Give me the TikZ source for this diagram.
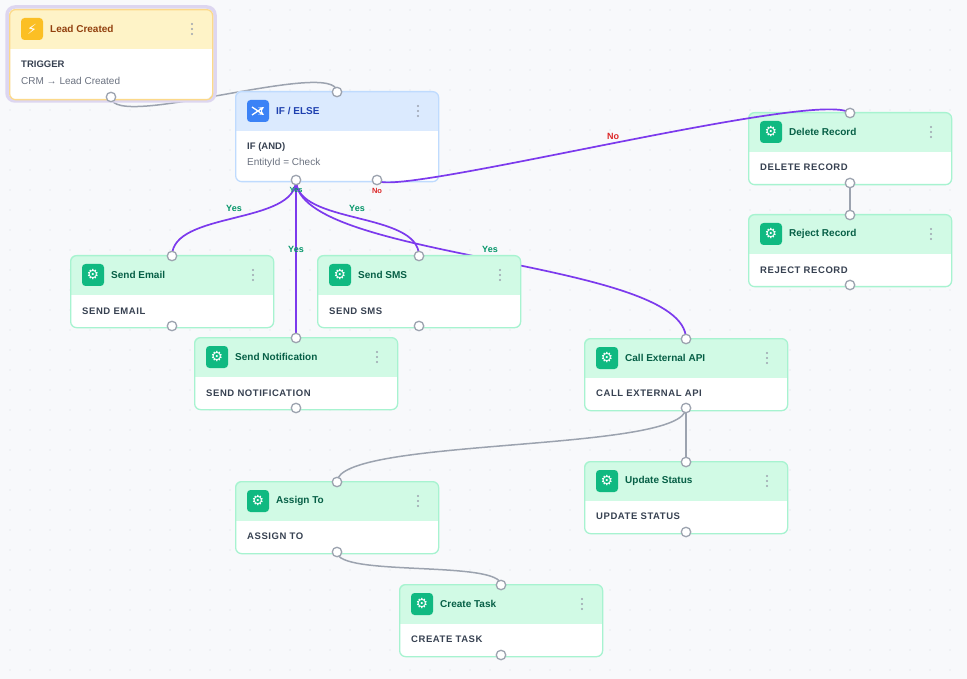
\documentclass[tikz,border=0pt]{standalone}
\usepackage{fontspec}
\setmainfont{Liberation Sans}
\newfontfamily\spaced[LetterSpace=6]{Liberation Sans}
\newfontfamily\sym{DejaVu Sans}
\definecolor{bgc}{HTML}{F8F9FB}
\definecolor{dotc}{HTML}{D9DCE2}
\definecolor{hdr-green}{HTML}{D1FAE5}
\definecolor{brd-green}{HTML}{A7F3D0}
\definecolor{icon-green}{HTML}{10B981}
\definecolor{ttl-green}{HTML}{065F46}
\definecolor{hdr-yellow}{HTML}{FEF3C7}
\definecolor{brd-yellow}{HTML}{FCD98A}
\definecolor{icon-yellow}{HTML}{FBBF24}
\definecolor{ttl-yellow}{HTML}{92400E}
\definecolor{hdr-blue}{HTML}{DBEAFE}
\definecolor{brd-blue}{HTML}{BFDBFE}
\definecolor{icon-blue}{HTML}{3B82F6}
\definecolor{ttl-blue}{HTML}{1E40AF}
\definecolor{edgep}{HTML}{7C3AED}
\definecolor{edgeg}{HTML}{9CA3AF}
\definecolor{bodyc}{HTML}{374151}
\definecolor{subc}{HTML}{6B7280}
\definecolor{yesc}{HTML}{059669}
\definecolor{noc}{HTML}{DC2626}
\definecolor{glow}{HTML}{DDD6F0}
\pgfdeclarelayer{bg}\pgfdeclarelayer{fg}\pgfsetlayers{bg,main,fg}
\tikzset{
  handle/.style={circle,fill=white,draw=edgeg,line width=1.3pt,minimum size=9.5pt,inner sep=0},
  pe/.style={draw=edgep,line width=1.7pt},
  ge/.style={draw=edgeg,line width=1.5pt},
  yes/.style={text=yesc,font=\bfseries\fontsize{9}{10}\selectfont},
  no/.style={text=noc,font=\bfseries\fontsize{9}{10}\selectfont},
  bodytxt/.style={anchor=west,inner sep=0,text=bodyc,font=\spaced\bfseries\fontsize{9.5}{11}\selectfont},
  subtxt/.style={anchor=west,inner sep=0,text=subc,font=\fontsize{10}{11}\selectfont},
}
% name, left, top, kind, title, bodyheight, icon
\newcommand\wfnode[7]{%
  \fill[white,rounded corners=6pt] (#2,#3) rectangle (#2+203,#3+40+#6);
  \begin{scope}
    \clip[rounded corners=6pt] (#2,#3) rectangle (#2+203,#3+40+#6);
    \fill[hdr-#4] (#2,#3) rectangle (#2+203,#3+40);
  \end{scope}
  \node[draw=brd-#4,line width=1.3pt,rounded corners=6pt,minimum width=203pt,
        minimum height={#6pt+40pt},anchor=north west,inner sep=0] (#1) at (#2,#3) {};
  \node[fill=icon-#4,rounded corners=3.5pt,minimum size=22pt,inner sep=0,text=white,
        font=\sym\fontsize{14}{14}\selectfont] (#1-icon) at (#2+23,#3+20) {#7};
  \node[anchor=west,inner sep=0,text=ttl-#4,font=\bfseries\fontsize{10}{12}\selectfont] (#1-title) at (#2+41,#3+20) {#5};
  \foreach \d in {-5,0,5}{\fill[edgeg] (#2+183,#3+20+\d) circle (1.1pt);}
}
\begin{document}
\begin{tikzpicture}[x=1pt,y=-1pt]
\useasboundingbox (0,0) rectangle (967,679);
\begin{pgfonlayer}{bg}
\fill[bgc] (0,0) rectangle (967,679);
\foreach \i in {0,...,48}{\foreach \j in {0,...,34}{\fill[dotc] (\i*20+10,\j*20+10) circle (0.6pt);}}
\end{pgfonlayer}

\draw[glow,line width=3.5pt,rounded corners=8pt] (7,7) rectangle (215,101);
\wfnode{lead}{9}{9}{yellow}{Lead Created}{50}{⚡}
\node[bodytxt,font=\bfseries\fontsize{9.5}{11}\selectfont] (lead-b1) at (21,64) {TRIGGER};
\node[subtxt] (lead-b2) at (21,81) {CRM → Lead Created};

\wfnode{if}{235}{91}{blue}{IF / ELSE}{50}{}
\draw[white,line width=1.3pt,-stealth] ([xshift=-6pt,yshift=-4pt]if-icon.center) -- ([xshift=6pt,yshift=4pt]if-icon.center);
\draw[white,line width=1.3pt,-stealth] ([xshift=-6pt,yshift=4pt]if-icon.center) -- ([xshift=6pt,yshift=-4pt]if-icon.center);
\node[bodytxt,font=\bfseries\fontsize{9.5}{11}\selectfont] (if-b1) at (247,147) {IF (AND)};
\node[subtxt] (if-b2) at (247,163) {EntityId = Check};

\wfnode{email}{70}{255}{green}{Send Email}{32}{⚙}
\node[bodytxt] (email-b) at (82,311) {SEND EMAIL};
\wfnode{sms}{317}{255}{green}{Send SMS}{32}{⚙}
\node[bodytxt] (sms-b) at (329,311) {SEND SMS};
\wfnode{notif}{194}{337}{green}{Send Notification}{32}{⚙}
\node[bodytxt] (notif-b) at (206,393) {SEND NOTIFICATION};
\wfnode{api}{584}{338}{green}{Call External API}{32}{⚙}
\node[bodytxt] (api-b) at (596,393) {CALL EXTERNAL API};
\wfnode{del}{748}{112}{green}{Delete Record}{32}{⚙}
\node[bodytxt] (del-b) at (760,167) {DELETE RECORD};
\wfnode{rej}{748}{214}{green}{Reject Record}{32}{⚙}
\node[bodytxt] (rej-b) at (760,270) {REJECT RECORD};
\wfnode{assign}{235}{481}{green}{Assign To}{32}{⚙}
\node[bodytxt] (assign-b) at (247,536) {ASSIGN TO};
\wfnode{upd}{584}{461}{green}{Update Status}{32}{⚙}
\node[bodytxt] (upd-b) at (596,516) {UPDATE STATUS};
\wfnode{task}{399}{584}{green}{Create Task}{32}{⚙}
\node[bodytxt] (task-b) at (411,639) {CREATE TASK};

\begin{pgfonlayer}{fg}
\node[handle] (lead-out) at (111,97) {};
\node[handle] (if-in) at (337,92) {};
\node[handle] (if-yes) at (296,180) {};
\node[handle] (if-no) at (377,180) {};
\node[handle] (email-in) at (172,256) {};
\node[handle] (email-out) at (172,326) {};
\node[handle] (sms-in) at (419,256) {};
\node[handle] (sms-out) at (419,326) {};
\node[handle] (notif-in) at (296,338) {};
\node[handle] (notif-out) at (296,408) {};
\node[handle] (api-in) at (686,339) {};
\node[handle] (api-out) at (686,408) {};
\node[handle] (del-in) at (850,113) {};
\node[handle] (del-out) at (850,183) {};
\node[handle] (rej-in) at (850,215) {};
\node[handle] (rej-out) at (850,285) {};
\node[handle] (assign-in) at (337,482) {};
\node[handle] (assign-out) at (337,552) {};
\node[handle] (upd-in) at (686,462) {};
\node[handle] (upd-out) at (686,532) {};
\node[handle] (task-in) at (501,585) {};
\node[handle] (task-out) at (501,655) {};
\end{pgfonlayer}

\begin{pgfonlayer}{bg}
\draw[ge] (lead-out.center) .. controls +(0,35) and +(0,-35) .. (if-in.center);
\draw[pe] (if-yes.center) .. controls +(0,45) and +(0,-45) .. (email-in.center);
\draw[pe] (if-yes.center) -- (notif-in.center);
\draw[pe] (if-yes.center) .. controls +(0,45) and +(0,-45) .. (sms-in.center);
\draw[pe] (if-yes.center) .. controls +(0,80) and +(0,-80) .. (api-in.center);
\draw[ge] (del-out.center) -- (rej-in.center);
\draw[ge] (api-out.center) .. controls +(0,45) and +(0,-45) .. (assign-in.center);
\draw[ge] (api-out.center) -- (upd-in.center);
\draw[ge] (assign-out.center) .. controls +(0,25) and +(0,-25) .. (task-in.center);
\end{pgfonlayer}
\draw[pe] (if-no.center) .. controls +(10,20) and +(-30,-25) .. (del-in.center);
\begin{pgfonlayer}{fg}
\node[yes,font=\bfseries\fontsize{7.5}{8}\selectfont] (l0) at (296,190) {Yes};
\node[no,font=\bfseries\fontsize{7.5}{8}\selectfont] (l1) at (377,191) {No};
\node[yes] (l2) at (234,208) {Yes};
\node[yes] (l3) at (357,208) {Yes};
\node[yes] (l4) at (296,249) {Yes};
\node[yes] (l5) at (490,249) {Yes};
\node[no] (l6) at (613,136) {No};
\end{pgfonlayer}
\end{tikzpicture}
\end{document}
